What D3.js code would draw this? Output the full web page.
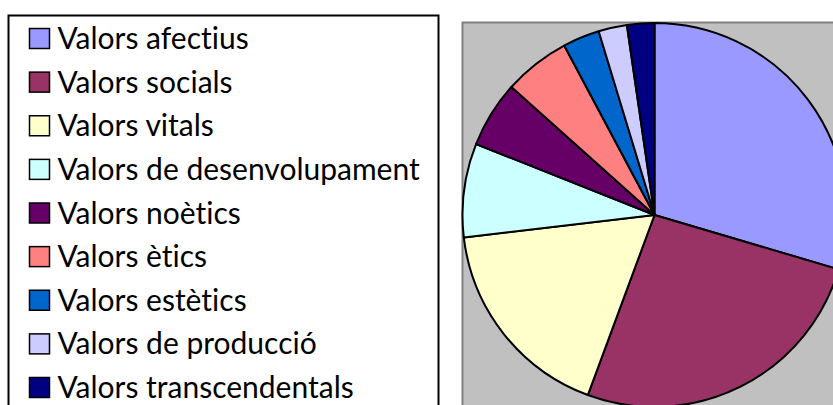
<!DOCTYPE html>
<html lang="ca">
<head>
  <meta charset="UTF-8">
  <title>Valors</title>
  <style>
    body { margin: 0; background: #fff; }
    svg { display: block; }
    text { font-variant-ligatures: none; font-feature-settings: "liga" 0, "clig" 0; }
  </style>
</head>
<body>
  <svg width="833" height="405"></svg>
  <script src="https://cdn.jsdelivr.net/npm/d3@7"></script>
  <script>
    var categories = ['Valors afectius', 'Valors socials', 'Valors vitals',
      'Valors de desenvolupament', 'Valors noètics', 'Valors ètics',
      'Valors estètics', 'Valors de producció', 'Valors transcendentals']
    var values = [29.6, 26.1, 17.5, 7.9, 5.6, 5.6, 3.1, 2.4, 2.3]
    var colors = ['#9999FF', '#993366', '#FFFFCC', '#CCFFFF', '#660066',
      '#FF8080', '#0066CC', '#CCCCFF', '#000080']

    var svg = d3.select('svg')

    var color = d3.scaleOrdinal().domain(categories).range(colors)

    // plot area
    svg.append('rect')
      .attr('x', 462.5).attr('y', 22.5)
      .attr('width', 500).attr('height', 500)
      .attr('fill', '#C0C0C0')
      .attr('stroke', '#808080')
      .attr('stroke-width', 2)

    var cx = 654.5, cy = 215, radius = 192
    var g = svg.append('g')
      .attr('transform', 'translate(' + cx + ',' + cy + ')')

    var pie = d3.pie().sort(null)
    var arc = d3.arc().innerRadius(0).outerRadius(radius)

    g.selectAll('path')
      .data(pie(values))
      .enter()
      .append('path')
      .attr('d', arc)
      .attr('fill', function(d, i) { return color(categories[i]) })
      .attr('stroke', '#000')
      .attr('stroke-width', 2)
      .attr('stroke-linejoin', 'round')

    // legend
    svg.append('rect')
      .attr('x', 8.5).attr('y', 15.5)
      .attr('width', 430).attr('height', 420)
      .attr('fill', '#fff')
      .attr('stroke', '#000')
      .attr('stroke-width', 2)

    var y = d3.scalePoint().domain(categories).range([28.5, 377.5])

    var items = svg.selectAll('g.item')
      .data(categories)
      .enter()
      .append('g')
      .attr('class', 'item')
      .attr('transform', function(d) { return 'translate(29.5,' + y(d) + ')' })

    items.append('rect')
      .attr('width', 20).attr('height', 20)
      .attr('fill', function(d) { return color(d) })
      .attr('stroke', '#000')
      .attr('stroke-width', 1.5)

    items.append('text')
      .attr('x', 28).attr('y', 20.5)
      .attr('font-family', 'Lato, "Open Sans", sans-serif')
      .attr('font-size', 30)
      .attr('fill', '#000')
      .text(function(d) { return d })
  </script>
</body>
</html>
